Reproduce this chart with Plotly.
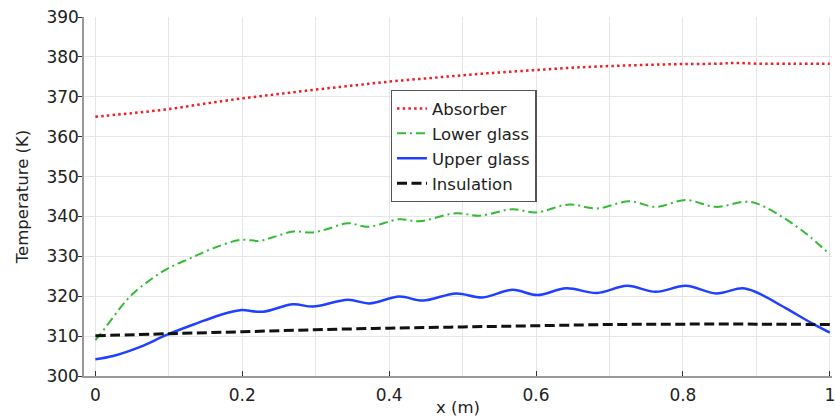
import plotly.graph_objects as go

# Absorber temperature along the collector
x_absorber = [0, 0.05, 0.1, 0.15, 0.2, 0.25, 0.3, 0.35, 0.4, 0.45, 0.5, 0.55,
              0.6, 0.65, 0.7, 0.75, 0.8, 0.85, 0.87, 0.9, 0.95, 1.0]
t_absorber = [365.0, 365.9, 366.9, 368.3, 369.6, 370.7, 371.8, 372.8, 373.8, 374.6,
              375.4, 376.1, 376.7, 377.3, 377.7, 378.0, 378.2, 378.3, 378.5, 378.3,
              378.3, 378.3]

# Lower glass temperature
x_lower = [0, 0.006, 0.047, 0.074, 0.099, 0.129, 0.16, 0.197, 0.224, 0.242, 0.269,
           0.296, 0.315, 0.344, 0.371, 0.414, 0.441, 0.491, 0.523, 0.568, 0.60,
           0.645, 0.683, 0.727, 0.763, 0.804, 0.845, 0.885, 0.903, 0.935, 0.967, 1.0]
t_lower = [309.0, 310.3, 319.9, 324.0, 327.0, 329.5, 332.0, 334.1, 333.9, 334.8, 336.2,
           336.0, 336.8, 338.3, 337.4, 339.3, 338.8, 340.8, 340.2, 341.8, 341.0,
           343.0, 342.0, 343.8, 342.4, 344.1, 342.4, 343.7, 343.1, 339.9, 335.8, 330.5]

# Upper glass temperature
x_upper = [0, 0.024, 0.061, 0.097, 0.138, 0.17, 0.197, 0.228, 0.269, 0.296, 0.344,
           0.373, 0.414, 0.446, 0.491, 0.527, 0.568, 0.602, 0.641, 0.683, 0.724,
           0.763, 0.804, 0.845, 0.881, 0.9, 0.94, 0.976, 1.0]
t_upper = [304.2, 305.0, 307.3, 310.3, 313.2, 315.3, 316.5, 316.1, 318.0, 317.4, 319.1,
           318.2, 319.9, 318.9, 320.7, 319.7, 321.6, 320.3, 322.0, 320.8, 322.6,
           321.1, 322.6, 320.7, 322.0, 321.0, 317.0, 313.2, 310.9]

# Insulation temperature
x_insul = [0, 0.1, 0.2, 0.3, 0.4, 0.5, 0.6, 0.7, 0.8, 0.9, 1.0]
t_insul = [310.1, 310.6, 311.1, 311.6, 312.0, 312.3, 312.6, 312.9, 313.0, 313.0, 312.9]

x_ticks = [0, 0.2, 0.4, 0.6, 0.8, 1.0]
x_tick_text = ["0", "0.2", "0.4", "0.6", "0.8", "1"]

FONT = "DejaVu Sans"
TEXT = "#222222"

fig = go.Figure()
fig.add_trace(go.Scatter(x=x_absorber, y=t_absorber, mode="lines", name="Absorber",
                         line=dict(color="#ee1c25", width=2.5, dash="2.5px,3.2px", shape="spline"),
                         legendgroup="a"))
fig.add_trace(go.Scatter(x=x_lower, y=t_lower, mode="lines", name="Lower glass",
                         line=dict(color="#33bb33", width=2, dash="9px,4px,2px,4px", shape="spline"),
                         legendgroup="b"))
fig.add_trace(go.Scatter(x=x_upper, y=t_upper, mode="lines", name="Upper glass",
                         line=dict(color="#2040ff", width=2.5, shape="spline"),
                         legendgroup="c"))
fig.add_trace(go.Scatter(x=x_insul, y=t_insul, mode="lines", name="Insulation",
                         line=dict(color="#111111", width=3, dash="10px,4.5px", shape="spline"),
                         legendgroup="d"))

xr = [-0.0155, 1.003]
fig.update_layout(
    width=835, height=417,
    margin=dict(l=84, r=3, t=17, b=41),
    paper_bgcolor="white", plot_bgcolor="white",
    font=dict(family=FONT, color=TEXT, size=17),
    showlegend=True,
    legend=dict(x=0.41, y=0.797, xanchor="left", yanchor="top",
                font=dict(family=FONT, size=16.5, color=TEXT),
                bgcolor="white", bordercolor="#555555", borderwidth=1.3,
                tracegroupgap=0.5, traceorder="grouped"),
    xaxis=dict(range=xr, tickvals=x_ticks, ticktext=x_tick_text,
               ticks="inside", ticklen=5, tickcolor="#333333",
               showline=True, linecolor="#999999", linewidth=1.5,
               showgrid=True, gridcolor="#e6e6e6", gridwidth=1,
               minor=dict(dtick=0.1, showgrid=True, gridcolor="#e6e6e6", gridwidth=1),
               zeroline=False, ticklabelstandoff=3, ticklabeloverflow="allow",
               automargin=False,
               tickfont=dict(size=17, family=FONT, color=TEXT),
               title=dict(text="x (m)", font=dict(size=16.5, family=FONT, color=TEXT), standoff=2)),
    xaxis2=dict(range=xr, overlaying="x", side="top", anchor="y",
                tickvals=x_ticks, showticklabels=False,
                ticks="inside", ticklen=5, tickcolor="#333333",
                showline=True, linecolor="#555555", linewidth=1.8,
                showgrid=False, zeroline=False, automargin=False),
    yaxis=dict(range=[300, 390], dtick=10, tick0=300,
               ticks="outside", ticklen=4, tickcolor="#333333",
               showline=True, linecolor="#999999", linewidth=1.5,
               showgrid=True, gridcolor="#e6e6e6", gridwidth=1,
               zeroline=False, ticklabelstandoff=-4, automargin=False,
               tickfont=dict(size=17, family=FONT, color=TEXT),
               title=dict(text="Temperature (K)", font=dict(size=16.5, family=FONT, color=TEXT), standoff=14)),
)

fig.write_html("out.html")
